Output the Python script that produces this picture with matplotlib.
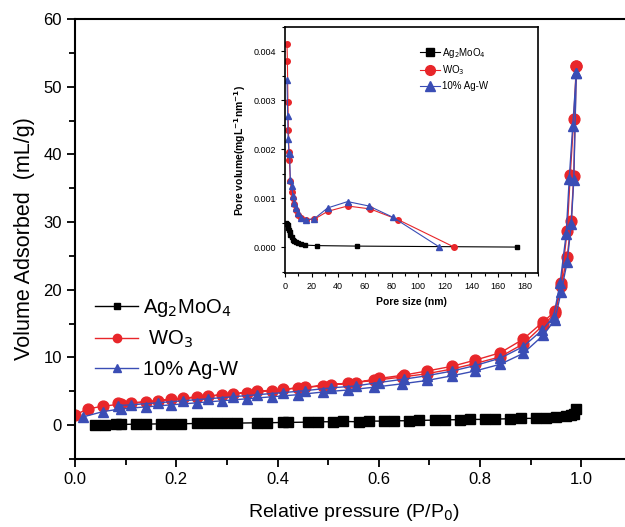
import matplotlib.pyplot as plt
from matplotlib.ticker import MultipleLocator
from matplotlib.lines import Line2D

plt.rcParams['font.family'] = ['Liberation Sans', 'DejaVu Sans']

# --- main isotherm data (P/P0, mL/g) ---
ag_p = [0.04, 0.06, 0.08, 0.09, 0.12, 0.14, 0.17, 0.19, 0.21, 0.24, 0.26, 0.28,
        0.30, 0.32, 0.36, 0.38, 0.41, 0.42, 0.46, 0.48, 0.51, 0.53, 0.56, 0.58,
        0.61, 0.63, 0.66, 0.68, 0.71, 0.73, 0.76, 0.78, 0.81, 0.83, 0.86, 0.88,
        0.91, 0.93, 0.95, 0.97, 0.98, 0.985, 0.99]
ag_v = [0.0, 0.05, 0.1, 0.1, 0.15, 0.15, 0.2, 0.2, 0.2, 0.25, 0.25, 0.3,
        0.3, 0.3, 0.35, 0.35, 0.4, 0.4, 0.45, 0.5, 0.5, 0.55, 0.5, 0.6,
        0.6, 0.65, 0.65, 0.7, 0.75, 0.8, 0.8, 0.85, 0.85, 0.9, 0.95, 1.0,
        1.0, 1.1, 1.2, 1.3, 1.5, 1.7, 2.4]

wo3_ads_p = [0.0, 0.025, 0.055, 0.09, 0.14, 0.19, 0.24, 0.29, 0.34, 0.39, 0.44,
             0.49, 0.54, 0.59, 0.645, 0.695, 0.745, 0.79, 0.84, 0.885, 0.925,
             0.948, 0.96, 0.972, 0.98, 0.985, 0.99]
wo3_ads_v = [1.5, 2.4, 2.8, 3.1, 3.4, 3.8, 4.1, 4.5, 4.8, 5.1, 5.5,
             5.8, 6.2, 6.6, 7.1, 7.6, 8.3, 9.1, 10.1, 12.0, 14.8,
             16.5, 20.5, 24.8, 30.2, 36.8, 53.0]
wo3_des_p = [0.99, 0.985, 0.978, 0.972, 0.96, 0.948, 0.925, 0.885, 0.84, 0.79,
             0.745, 0.695, 0.65, 0.6, 0.555, 0.505, 0.455, 0.41, 0.36, 0.313,
             0.263, 0.213, 0.163, 0.11, 0.085]
wo3_des_v = [53.0, 45.3, 37.0, 28.7, 21.0, 16.8, 15.3, 12.7, 10.7, 9.6,
             8.7, 8.0, 7.4, 6.9, 6.3, 6.0, 5.6, 5.3, 5.0, 4.6,
             4.3, 4.0, 3.6, 3.3, 3.2]

agw_ads_p = [0.015, 0.055, 0.09, 0.14, 0.19, 0.24, 0.29, 0.34, 0.39, 0.44,
             0.49, 0.54, 0.59, 0.645, 0.695, 0.745, 0.79, 0.84, 0.885, 0.925,
             0.948, 0.96, 0.972, 0.98, 0.985, 0.99]
agw_ads_v = [1.2, 2.0, 2.4, 2.7, 3.0, 3.3, 3.6, 3.9, 4.2, 4.5,
             4.9, 5.2, 5.6, 6.1, 6.6, 7.3, 8.0, 9.0, 10.6, 13.3,
             15.6, 19.7, 24.1, 29.7, 36.2, 52.0]
agw_des_p = [0.99, 0.983, 0.976, 0.97, 0.958, 0.945, 0.922, 0.885, 0.84, 0.79,
             0.745, 0.695, 0.65, 0.6, 0.555, 0.505, 0.455, 0.41, 0.36, 0.313,
             0.263, 0.213, 0.163, 0.11, 0.085]
agw_des_v = [52.0, 44.2, 36.3, 28.2, 21.0, 16.0, 14.0, 11.6, 9.9, 8.8,
             8.0, 7.3, 6.8, 6.3, 5.8, 5.5, 5.1, 4.8, 4.5, 4.2,
             3.9, 3.6, 3.3, 3.0, 2.9]

# --- inset pore size distribution (nm, mgL-1nm-1) ---
ag_d = [1, 1.5, 2, 2.5, 3, 3.5, 4, 5, 6, 7, 8, 10, 12, 15, 24, 54, 174]
ag_pv = [0.0005, 0.00048, 0.00045, 0.0004, 0.00035, 0.0003, 0.00025, 0.0002,
         0.00015, 0.00012, 0.0001, 0.00008, 0.00006, 0.00004, 0.00003, 0.00002, 0.0]
wo3_d = [1.5, 1.8, 2.2, 2.6, 3, 3.3, 4, 5, 6, 7, 8, 10, 12, 16, 22, 32, 47, 64, 85, 127]
wo3_pv = [0.00415, 0.0038, 0.00297, 0.0024, 0.00195, 0.00178, 0.00135, 0.00113,
          0.001, 0.00088, 0.00075, 0.00065, 0.0006, 0.00056, 0.00057, 0.00073,
          0.00084, 0.00078, 0.00056, 0.0]
agw_d = [1.5, 2, 2.3, 3, 3.5, 4, 5, 6, 7, 8, 10, 12, 16, 22, 32, 47, 63, 81, 116]
agw_pv = [0.00342, 0.00267, 0.00222, 0.00193, 0.0019, 0.00137, 0.00125, 0.00105,
          0.0009, 0.0008, 0.0007, 0.0006, 0.00056, 0.00058, 0.0008, 0.00093,
          0.00084, 0.00061, 0.0]

labels = ['Ag$_2$MoO$_4$', ' WO$_3$', '10% Ag-W']
RED = '#e8262a'
BLUE = '#3a4db5'

fig = plt.figure(figsize=(6.25, 5.27), dpi=100)
W, H = 625, 527
ax = fig.add_axes([75 / W, 1 - 459 / H, (632 - 75) / W, (459 - 19) / H])

ax.plot(ag_p, ag_v, '-s', color='black', lw=1, ms=6.5)
ax.plot(wo3_ads_p + wo3_des_p, wo3_ads_v + wo3_des_v, '-o', color=RED, lw=1, ms=7.8)
ax.plot(agw_ads_p + agw_des_p, agw_ads_v + agw_des_v, '-^', color=BLUE, lw=1, ms=7.8)

ax.set_xlim(0, 1.1)
ax.set_ylim(-5, 60)
ax.xaxis.set_major_locator(MultipleLocator(0.2))
ax.xaxis.set_minor_locator(MultipleLocator(0.1))
ax.yaxis.set_major_locator(MultipleLocator(10))
ax.yaxis.set_minor_locator(MultipleLocator(5))
ax.tick_params(which='both', direction='out', width=1.3, labelsize=12)
ax.tick_params(which='major', length=6)
ax.tick_params(which='minor', length=4)
for s in ax.spines.values():
    s.set_linewidth(1.5)
ax.set_xlabel('Relative pressure (P/P$_0$)', fontsize=14, labelpad=11)
ax.set_ylabel('Volume Adsorbed  (mL/g)', fontsize=15.5, labelpad=6)

h = [Line2D([], [], color='black', marker='s', lw=1, ms=5),
     Line2D([], [], color=RED, marker='o', lw=1, ms=6),
     Line2D([], [], color=BLUE, marker='^', lw=1, ms=6)]
ax.legend(h, labels, loc='center left', bbox_to_anchor=(0.036, 0.275),
          frameon=False, fontsize=14.5, borderpad=0, borderaxespad=0,
          handlelength=2.15, handletextpad=0.25, labelspacing=0.5)

# inset
ins = fig.add_axes([285 / W, 1 - 273 / H, (538 - 285) / W, (273 - 27) / H])
ins.plot(ag_d, ag_pv, '-s', color='black', lw=0.8, ms=3)
ins.plot(wo3_d, wo3_pv, '-o', color=RED, lw=0.8, ms=4)
ins.plot(agw_d, agw_pv, '-^', color=BLUE, lw=0.8, ms=4)
ins.set_xlim(0, 190)
ins.set_ylim(-0.00053, 0.0045)
ins.xaxis.set_major_locator(MultipleLocator(20))
ins.xaxis.set_minor_locator(MultipleLocator(10))
ins.yaxis.set_major_locator(MultipleLocator(0.001))
ins.yaxis.set_minor_locator(MultipleLocator(0.0005))
ins.yaxis.set_major_formatter(plt.FormatStrFormatter('%.3f'))
ins.tick_params(which='both', direction='out', labelsize=6.5, width=0.8)
ins.tick_params(which='major', length=3)
ins.tick_params(which='minor', length=2)
for s in ins.spines.values():
    s.set_linewidth(1.2)
ins.set_xlabel('Pore size (nm)', fontsize=7.5, fontweight='bold', labelpad=4)
ins.set_ylabel('Pore volume(mgL$^{\\mathbf{-1}}$nm$^{\\mathbf{-1}}$)', fontsize=7.5,
               fontweight='bold', labelpad=4)

hi = [Line2D([], [], color='black', marker='s', lw=0.8, ms=6),
      Line2D([], [], color=RED, marker='o', lw=0.8, ms=7),
      Line2D([], [], color=BLUE, marker='^', lw=0.8, ms=7)]
ins.legend(hi, ['Ag$_2$MoO$_4$', 'WO$_3$', '10% Ag-W'], loc='upper left',
           bbox_to_anchor=(0.5, 0.96), frameon=False, fontsize=7,
           handlelength=2.0, handletextpad=0.2, labelspacing=0.4)

fig.savefig('out.png', dpi=100)
